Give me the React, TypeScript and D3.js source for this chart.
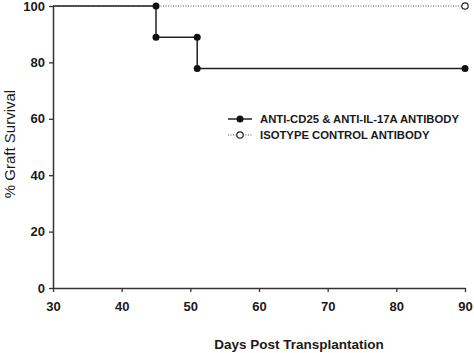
import React, { useRef, useEffect } from 'react';
import * as d3 from 'd3';

// Kaplan-Meier steps for the treated group (day, % survival)
const treatedDays = [30, 45, 51, 90];
const treatedSurvival = [100, 88.9, 77.8, 77.8];
// event / censor markers on the treated curve
const treatedMarkDays = [45, 45, 51, 51, 90];
const treatedMarkSurvival = [100, 88.9, 88.9, 77.8, 77.8];

const controlDays = [30, 90];
const controlSurvival = [100, 100];

const xTicks = [30, 40, 50, 60, 70, 80, 90];
const yTicks = [0, 20, 40, 60, 80, 100];

const legendLabels = ['ANTI-CD25 & ANTI-IL-17A ANTIBODY', 'ISOTYPE CONTROL ANTIBODY'];

function App() {
  const ref = useRef<SVGSVGElement>(null);

  useEffect(() => {
    const svg = d3.select(ref.current);
    svg.selectAll('*').remove();

    const x = d3.scaleLinear().domain([30, 90]).range([53, 465]);
    const y = d3.scaleLinear().domain([0, 100]).range([288, 6]);
    const font = 'Liberation Sans, Arial, sans-serif';
    const ink = '#1a1a1a';

    // axes
    const xAxis = svg.append('g')
      .attr('transform', `translate(0,${y(0)})`)
      .call(d3.axisBottom(x).tickValues(xTicks).tickSize(4).tickPadding(10).tickSizeOuter(0));
    const yAxis = svg.append('g')
      .attr('transform', `translate(${x(30)},0)`)
      .call(d3.axisLeft(y).tickValues(yTicks).tickSize(4).tickPadding(4).tickSizeOuter(0));
    [xAxis, yAxis].forEach((g) => {
      g.select('.domain').attr('stroke', '#333').attr('stroke-width', 1.5);
      g.selectAll('.tick line').attr('stroke', '#333').attr('stroke-width', 1.3);
      g.selectAll('.tick text')
        .attr('fill', ink)
        .style('font-family', font)
        .style('font-size', '13px')
        .style('font-weight', 'bold');
    });

    // control: dotted line at 100%
    const controlLine = d3.line<number>()
      .x((d) => x(d))
      .y((_, i) => y(controlSurvival[i]));
    svg.append('path')
      .attr('d', controlLine(controlDays))
      .attr('fill', 'none')
      .attr('stroke', '#555')
      .attr('stroke-width', 1)
      .attr('stroke-dasharray', '1,1.5');

    // treated: step line
    const treatedLine = d3.line<number>()
      .x((d) => x(d))
      .y((_, i) => y(treatedSurvival[i]))
      .curve(d3.curveStepAfter);
    svg.append('path')
      .attr('d', treatedLine(treatedDays))
      .attr('fill', 'none')
      .attr('stroke', '#222')
      .attr('stroke-width', 1.5);

    svg.selectAll('.mark')
      .data(treatedMarkDays)
      .enter().append('circle')
      .attr('cx', (d) => x(d))
      .attr('cy', (_, i) => y(treatedMarkSurvival[i]))
      .attr('r', 3.5)
      .attr('fill', '#111');

    svg.append('circle')
      .attr('cx', x(controlDays[1]))
      .attr('cy', y(controlSurvival[1]))
      .attr('r', 3.2)
      .attr('fill', '#fff')
      .attr('stroke', '#222')
      .attr('stroke-width', 1.2);

    // legend
    const lg = svg.append('g').attr('transform', 'translate(228,119)');
    lg.append('line').attr('x1', 0).attr('x2', 24).attr('y1', 0).attr('y2', 0)
      .attr('stroke', '#222').attr('stroke-width', 1.5);
    lg.append('circle').attr('cx', 12).attr('cy', 0).attr('r', 3.5).attr('fill', '#111');
    lg.append('line').attr('x1', 0).attr('x2', 24).attr('y1', 16).attr('y2', 16)
      .attr('stroke', '#555').attr('stroke-width', 1).attr('stroke-dasharray', '1,1.5');
    lg.append('circle').attr('cx', 12).attr('cy', 16).attr('r', 3.2)
      .attr('fill', '#fff').attr('stroke', '#222').attr('stroke-width', 1.2);
    lg.selectAll('.lt')
      .data(legendLabels)
      .enter().append('text')
      .attr('x', 32)
      .attr('y', (_, i) => i * 16 + 4)
      .attr('fill', ink)
      .style('font-family', font)
      .style('font-size', '11.3px')
      .style('font-weight', 'bold')
      .text((d) => d);

    // axis titles
    svg.append('text')
      .attr('x', 299)
      .attr('y', 349)
      .attr('text-anchor', 'middle')
      .attr('fill', ink)
      .style('font-family', font)
      .style('font-size', '13.5px')
      .style('font-weight', 'bold')
      .text('Days Post Transplantation');

    svg.append('text')
      .attr('transform', 'translate(15,144) rotate(-90)')
      .attr('text-anchor', 'middle')
      .attr('fill', ink)
      .style('font-family', font)
      .style('font-size', '15px')
      .text('% Graft Survival');
  }, []);

  return (
    <svg ref={ref} width={474} height={353}
      style={{ position: 'absolute', left: 0, top: 0, background: '#fff' }} />
  );
}

export default App;
